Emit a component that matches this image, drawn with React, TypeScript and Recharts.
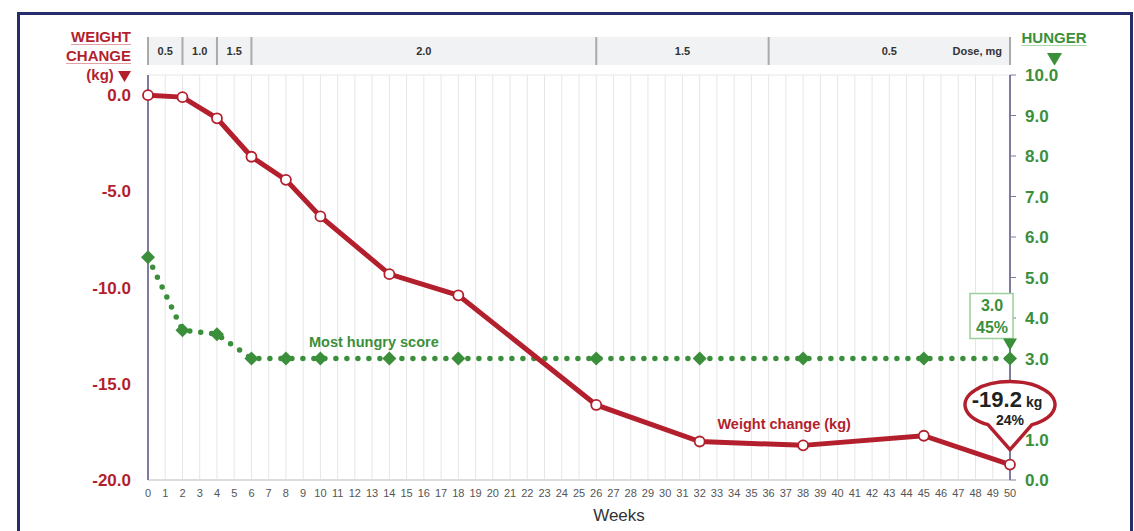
import React from "react";
import {
  ComposedChart, Line, XAxis, YAxis, CartesianGrid, ReferenceArea,
  ReferenceLine, ReferenceDot,
} from "recharts";

const FONT = "'Liberation Sans Narrow', 'Arial Narrow', 'Liberation Sans', Arial, sans-serif";
const RED = "#b31f2d";
const GREEN = "#3b8f3b";
const AXIS = "#7d7ca0";

// weeks at which values were recorded
const weeks = [0, 2, 4, 6, 8, 10, 14, 18, 26, 32, 38, 45, 50];
// weight change, kg
const weightChange = [0.0, -0.1, -1.2, -3.2, -4.4, -6.3, -9.3, -10.4, -16.1, -18.0, -18.2, -17.7, -19.2];
// most hungry score, 0-10
const hungerScore = [5.5, 3.7, 3.6, 3.0, 3.0, 3.0, 3.0, 3.0, 3.0, 3.0, 3.0, 3.0, 3.0];

const weekTicks = Array.from({ length: 51 }, (_, i) => i);
const weightTicks = [0, -5, -10, -15, -20];
const hungerTicks = [0, 1, 3, 4, 5, 6, 7, 8, 9, 10];

// dose schedule (mg) header
const doseStart = [0, 2, 4, 6, 26, 36];
const doseEnd = [2, 4, 6, 26, 36, 50];
const doseLabels = ["0.5", "1.0", "1.5", "2.0", "1.5", "0.5"];

const data = weeks.map((w, i) => ({ week: w, weight: weightChange[i], hunger: hungerScore[i] }));
const doseRows = doseStart.map((s, i) => ({ x: s, end: doseEnd[i], label: doseLabels[i], mid: 0.5 }));
const doseBounds = [0, ...doseEnd];

const Diamond = (p: any) => {
  const { cx, cy, index } = p;
  if (cx == null || cy == null) return <g key={index} />;
  const s = 7;
  return (
    <polygon
      key={index}
      points={`${cx},${cy - s} ${cx + s},${cy} ${cx},${cy + s} ${cx - s},${cy}`}
      fill={GREEN}
    />
  );
};

const Bubble = (p: any) => {
  const { cx, cy } = p;
  const ey = cy - 60;
  const rx = 45, ry = 23, bx = 22;
  const by = ey + ry * Math.sqrt(1 - (bx / rx) ** 2);
  return (
    <g>
      <path
        d={`M ${cx - bx} ${by} A ${rx} ${ry} 0 1 1 ${cx + bx} ${by} L ${cx} ${cy - 15} Z`}
        fill="#fff" stroke={RED} strokeWidth={3.5} strokeLinejoin="round"
      />
      <text x={cx - 3} y={cy - 58} textAnchor="middle" fontFamily={FONT} fontWeight={700} fill="#222">
        <tspan fontSize={22}>-19.2</tspan>
        <tspan fontSize={14} dx={4}>kg</tspan>
      </text>
      <text x={cx} y={cy - 40} textAnchor="middle" fontFamily={FONT} fontWeight={700} fontSize={14} fill="#222">
        24%
      </text>
    </g>
  );
};

const HungerBox = (p: any) => {
  const { cx, cy } = p;
  return (
    <g>
      <rect x={cx - 40} y={cy - 65} width={43} height={45} fill="#fff" stroke="#9ad09a" strokeWidth={1.5} />
      <text x={cx - 18} y={cy - 48} textAnchor="middle" fontFamily={FONT} fontWeight={700} fontSize={16} fill={GREEN}>3.0</text>
      <text x={cx - 18} y={cy - 26} textAnchor="middle" fontFamily={FONT} fontWeight={700} fontSize={16} fill={GREEN}>45%</text>
      <polygon points={`${cx - 7},${cy - 20} ${cx + 7},${cy - 20} ${cx},${cy - 8}`} fill={GREEN} />
    </g>
  );
};

const underline = (color: string) => ({
  textDecoration: "underline",
  textDecorationColor: color,
  textUnderlineOffset: 2,
});

const Tri = ({ color, w }: { color: string; w: number }) => (
  <svg width={w} height={w * 0.85} style={{ display: "inline-block", verticalAlign: "middle" }}>
    <polygon points={`0,0 ${w},0 ${w / 2},${w * 0.85}`} fill={color} />
  </svg>
);

export default function App() {
  return (
    <div style={{ position: "absolute", left: 0, top: 0, width: 1134, height: 531, overflow: "hidden", background: "#fff", fontFamily: FONT }}>
      <div style={{ position: "absolute", left: 17, top: 12, width: 1116, height: 560, border: "3px solid #272c6c", boxSizing: "border-box" }} />

      <div style={{ position: "absolute", right: 1134 - 131, top: 27, textAlign: "right", color: RED, fontWeight: 700, fontSize: 15, lineHeight: "19px" }}>
        <div style={underline("#e0a0a6")}>WEIGHT</div>
        <div style={underline("#e0a0a6")}>CHANGE</div>
        <div>(kg) <Tri color={RED} w={13} /></div>
      </div>
      <div style={{ position: "absolute", left: 1021, top: 29, color: GREEN, fontWeight: 700, fontSize: 15, textAlign: "center", width: 66, lineHeight: "18px" }}>
        <div style={underline("#a8d8a8")}>HUNGER</div>
        <div style={{ marginTop: 2 }}><Tri color={GREEN} w={15} /></div>
      </div>

      <div style={{ position: "absolute", left: 0, top: 37 }}>
        <ComposedChart width={1134} height={28} data={doseRows} margin={{ top: 0, right: 124, bottom: 0, left: 148 }}>
          <XAxis type="number" dataKey="x" domain={[0, 50]} hide />
          <YAxis type="number" domain={[0, 1]} hide />
          <Line dataKey="mid" stroke="none" dot={false} activeDot={false} isAnimationActive={false} />
          {doseRows.map((d, i) => (
            <ReferenceArea
              key={i} x1={d.x} x2={d.end} y1={0} y2={1}
              fill="#f1f2f4" fillOpacity={1} stroke="none"
              label={{ value: d.label, position: "center", fontSize: 11, fontWeight: 700, fill: "#333", fontFamily: FONT }}
            />
          ))}
          {doseBounds.map((b) => (
            <ReferenceLine key={b} x={b} stroke="#aaa" strokeWidth={2} />
          ))}
          <ReferenceDot
            x={50} y={0.5} r={0} fill="none" stroke="none"
            label={{ value: "Dose, mg", position: "left", offset: 8, fontSize: 11, fontWeight: 700, fill: "#333", fontFamily: FONT }}
          />
        </ComposedChart>
      </div>

      <div style={{ position: "absolute", left: 0, top: 0 }}>
        <ComposedChart width={1134} height={531} data={data} margin={{ top: 75, right: 64, bottom: 6, left: 88 }}>
          <CartesianGrid horizontal={false} stroke="#e6e6e6" />
          <XAxis
            type="number" dataKey="week" domain={[0, 50]} ticks={weekTicks} interval={0}
            height={45} tickLine={false} tickSize={0} tickMargin={9}
            axisLine={{ stroke: "#dcdcdc", strokeWidth: 2 }}
            tick={{ fontSize: 11, fill: "#555", fontFamily: FONT }}
            label={{ value: "Weeks", position: "insideBottom", dx: 40, offset: 4, fontSize: 17, fill: "#333", fontFamily: "'Liberation Sans', Arial, sans-serif" }}
          />
          <YAxis
            yAxisId="w" type="number" domain={[-20, 1.05]} ticks={weightTicks} interval={0} width={60}
            tickLine={false} tickSize={0} tickMargin={17}
            axisLine={{ stroke: AXIS, strokeWidth: 2 }}
            tick={{ fontSize: 17, fontWeight: 700, fill: RED, fontFamily: FONT }}
            tickFormatter={(v: number) => v.toFixed(1)}
          />
          <YAxis
            yAxisId="h" orientation="right" type="number" domain={[0, 10]} ticks={hungerTicks} interval={0} width={60}
            tickLine={{ stroke: AXIS }} tickSize={6} tickMargin={9}
            axisLine={{ stroke: AXIS, strokeWidth: 2 }}
            tick={{ fontSize: 17, fontWeight: 700, fill: GREEN, fontFamily: FONT }}
            tickFormatter={(v: number) => v.toFixed(1)}
          />
          <ReferenceLine yAxisId="w" y={1.05} stroke="#e6e6e6" />
          <Line
            yAxisId="h" dataKey="hunger" type="linear" stroke={GREEN} strokeWidth={5.5}
            strokeDasharray="0 11" strokeLinecap="round" dot={Diamond} activeDot={false}
            isAnimationActive={false}
          />
          <Line
            yAxisId="w" dataKey="weight" type="linear" stroke={RED} strokeWidth={5}
            dot={{ r: 5, fill: "#fff", stroke: RED, strokeWidth: 1.8 }} activeDot={false}
            isAnimationActive={false}
          />
          <ReferenceDot
            yAxisId="h" x={13.1} y={3.4} r={0} fill="none" stroke="none" ifOverflow="visible"
            label={{ value: "Most hungry score", position: "center", fontSize: 14.5, fontWeight: 700, fill: GREEN, fontFamily: FONT }}
          />
          <ReferenceDot
            yAxisId="w" x={36.9} y={-17.1} r={0} fill="none" stroke="none" ifOverflow="visible"
            label={{ value: "Weight change (kg)", position: "center", fontSize: 14.5, fontWeight: 700, fill: RED, fontFamily: FONT }}
          />
          <ReferenceDot yAxisId="h" x={50} y={3.0} ifOverflow="visible" shape={HungerBox} />
          <ReferenceDot yAxisId="w" x={50} y={-19.2} ifOverflow="visible" shape={Bubble} />
        </ComposedChart>
      </div>
    </div>
  );
}
